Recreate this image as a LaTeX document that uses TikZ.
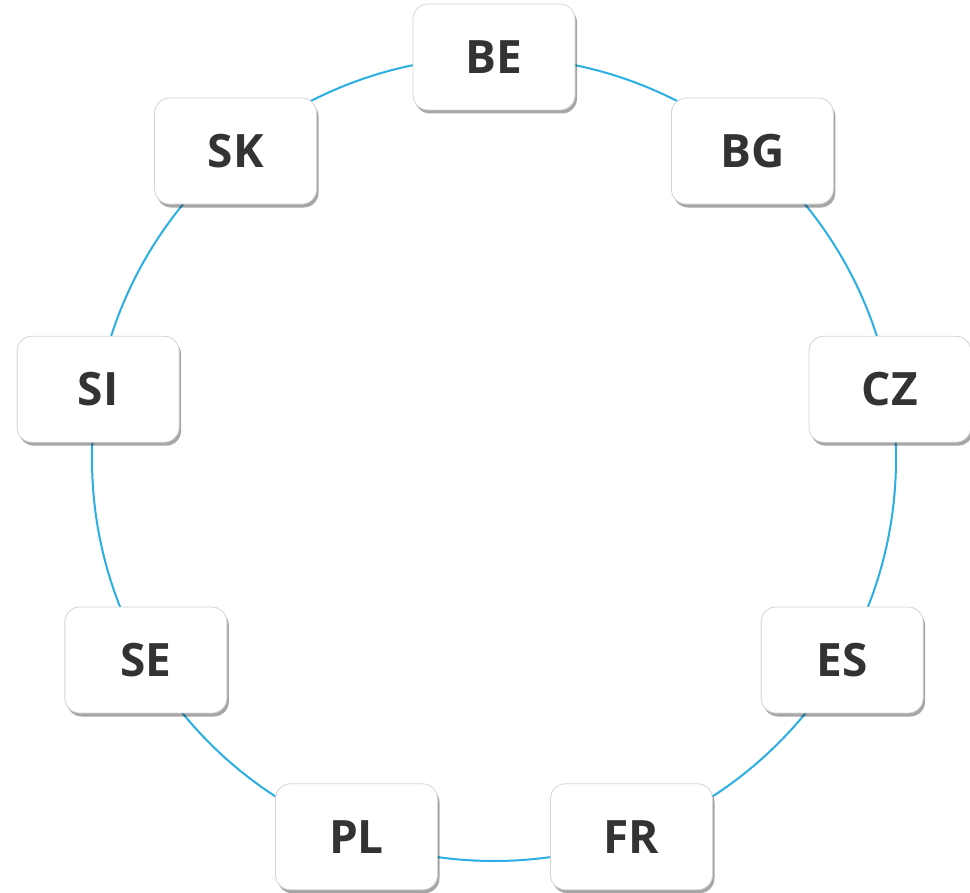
\documentclass[tikz,border=0pt]{standalone}
\usepackage{fontspec}
\setmainfont{Open Sans}
\usetikzlibrary{shadows}
\definecolor{ringblue}{HTML}{2AAEE3}
\definecolor{txtgray}{HTML}{333333}
\definecolor{boxline}{HTML}{D4D4D4}
\tikzset{
  ring/.style={draw=ringblue, line width=2pt},
  cbox/.style={draw=boxline, line width=0.8pt, fill=white, rounded corners=15pt,
    minimum width=162pt, minimum height=106pt, inner sep=0pt,
    font=\fontsize{46}{46}\selectfont\bfseries, text=txtgray,
    drop shadow={shadow xshift=2pt, shadow yshift=-3.5pt, fill=black, opacity=0.35}}
}
\begin{document}
\begin{tikzpicture}[x=1pt,y=1pt]
\useasboundingbox (0,-893) rectangle (970,0);
\coordinate (c) at (494,-459);
\draw[ring] (c) circle[radius=402pt];
\node[cbox] (be) at ([shift={(90:402pt)}]c) {BE};
\node[cbox] (bg) at ([shift={(50:402pt)}]c) {BG};
\node[cbox] (cz) at ([shift={(10:402pt)}]c) {CZ};
\node[cbox] (es) at ([shift={(-30:402pt)}]c) {ES};
\node[cbox] (fr) at ([shift={(-70:402pt)}]c) {FR};
\node[cbox] (pl) at ([shift={(-110:402pt)}]c) {PL};
\node[cbox] (se) at ([shift={(-150:402pt)}]c) {SE};
\node[cbox] (si) at ([shift={(170:402pt)}]c) {SI};
\node[cbox] (sk) at ([shift={(130:402pt)}]c) {SK};
\end{tikzpicture}
\end{document}
